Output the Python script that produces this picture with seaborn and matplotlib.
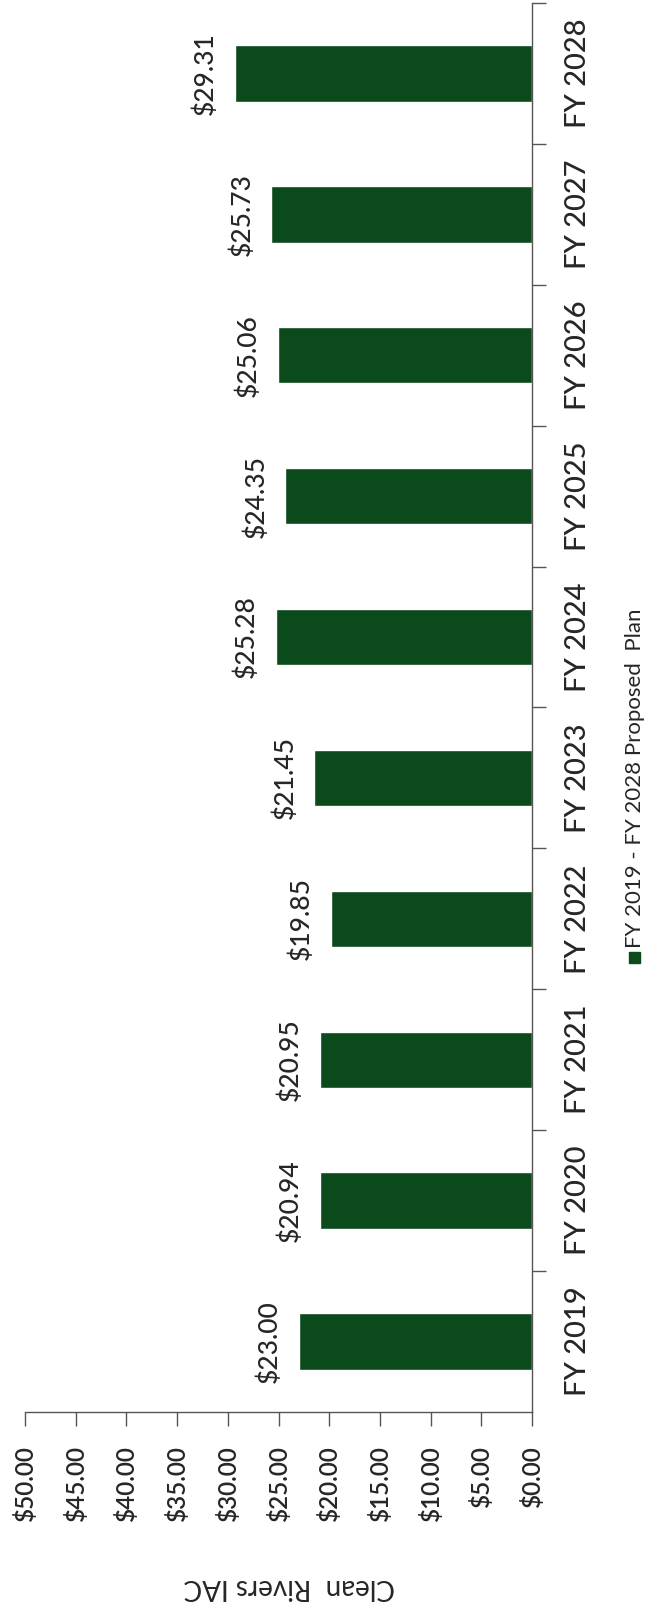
import matplotlib
matplotlib.use("Agg")
import matplotlib.pyplot as plt
from matplotlib.patches import Rectangle
import seaborn as sns
import pandas as pd

years = ["FY 2019", "FY 2020", "FY 2021", "FY 2022", "FY 2023",
         "FY 2024", "FY 2025", "FY 2026", "FY 2027", "FY 2028"]
iac = [23.00, 20.94, 20.95, 19.85, 21.45, 25.28, 24.35, 25.06, 25.73, 29.31]
value_ticks = [0, 5, 10, 15, 20, 25, 30, 35, 40, 45, 50]
series_name = "FY 2019 - FY 2028 Proposed  Plan"
axis_title = "Clean  Rivers IAC"

green = "#0b4a1b"

data = pd.DataFrame({"Year": years, "IAC": iac})

sns.set_theme(style="white")
plt.rcParams["font.family"] = ["Lato", "DejaVu Sans"]

W, H = 647, 1610
fig = plt.figure(figsize=(W / 100, H / 100), dpi=100)
# the chart is drawn turned a quarter turn: bars grow leftwards from the right
ax = fig.add_axes([25 / W, (H - 1412) / H, 507 / W, 1409 / H])

sns.barplot(data=data, x="IAC", y="Year", order=years[::-1], orient="h",
            color=green, width=0.4, saturation=1, ax=ax)

ax.set_xlim(50, 0)
ax.set_ylim(len(years) - 0.5, -0.5)

for spine in ["left", "top"]:
    ax.spines[spine].set_visible(False)
for spine in ["right", "bottom"]:
    ax.spines[spine].set_color("#555555")
    ax.spines[spine].set_linewidth(1.0)

# value axis
ax.set_xticks(value_ticks)
ax.set_xticklabels([f"${v:.2f}" for v in value_ticks], rotation=90,
                   fontsize=17.5, fontweight="semibold", va="top", ha="center")
ax.tick_params(axis="x", direction="out", length=10, width=1, color="#555555",
               pad=14, bottom=True)

# category axis on the right, ticks between categories
ax.yaxis.tick_right()
ax.set_yticks(range(len(years)))
ax.set_yticklabels(years[::-1], rotation=90, fontsize=21, fontweight="medium",
                   va="center", ha="left")
ax.set_yticks([i - 0.5 for i in range(len(years))], minor=True)
ax.tick_params(axis="y", which="major", length=0, pad=24)
ax.tick_params(axis="y", which="minor", direction="out", length=10, width=1,
               color="#555555", right=True, left=False)

ax.set_ylabel("")
ax.set_xlabel(axis_title, rotation=180, fontsize=20, va="center")
ax.xaxis.set_label_coords((289 - 25) / 507, (1412 - 1587) / 1409)

# value labels
for bar, v in zip(ax.patches, iac[::-1]):
    y = bar.get_y() + bar.get_height() / 2
    ax.annotate(f"${v:.2f}", xy=(bar.get_width(), y), xytext=(-12, 0),
                textcoords="offset points", rotation=90, fontsize=19,
                fontweight="medium", ha="right", va="center")

# legend, turned like the rest of the chart
fig.patches.append(Rectangle((629 / W, (H - 963) / H), 11 / W, 11 / H,
                             transform=fig.transFigure, color=green))
fig.text(635 / W, (H - 948) / H, series_name, rotation=90, fontsize=16,
         ha="center", va="bottom")

fig.savefig("out.png", dpi=100)
